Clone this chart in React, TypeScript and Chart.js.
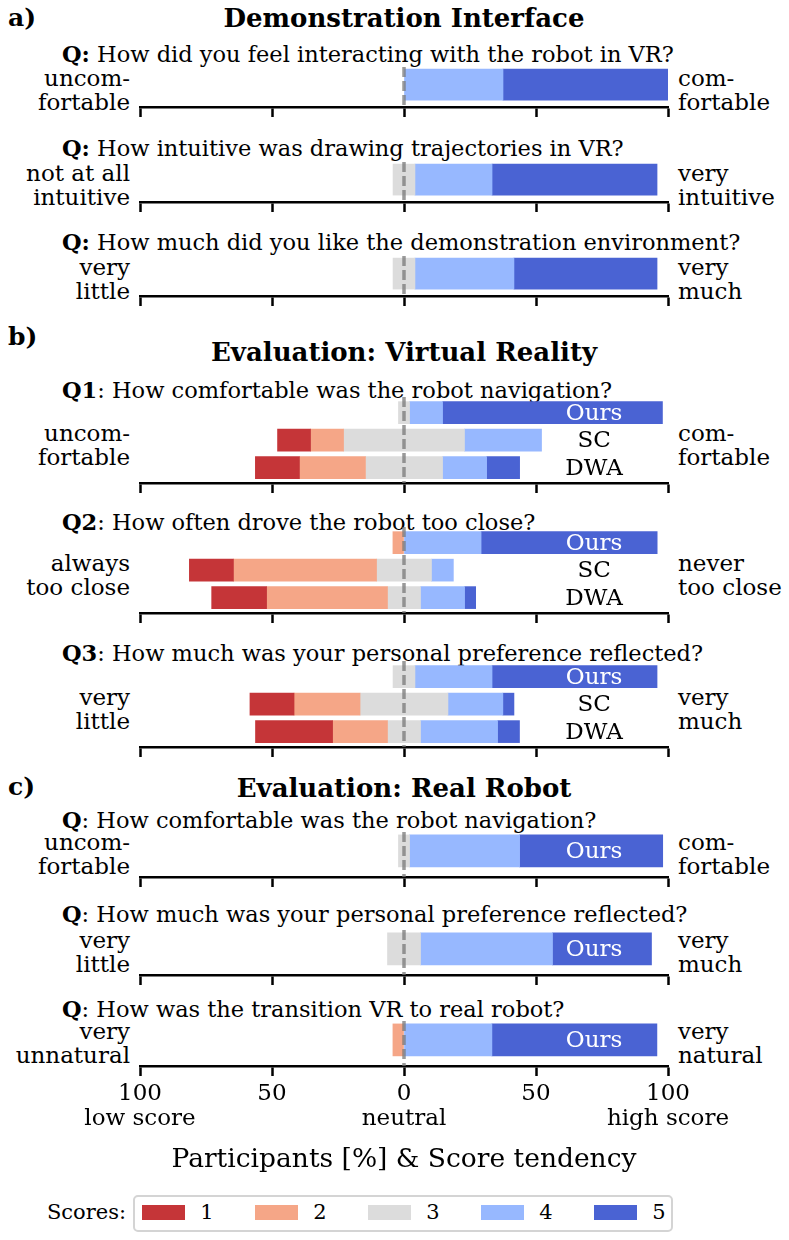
import React, { useEffect, useRef } from "react";
import { Chart, registerables } from "chart.js";
Chart.register(...registerables);

const FONT = "'DejaVu Serif', serif";

// likert scores and their colours
const scoreLabels = ["1", "2", "3", "4", "5"];
const scoreColors = ["#C53538", "#F5A687", "#DCDCDC", "#97B8FF", "#4A63D3"];

// share of participants (%) per score 1..5
const demoFeel = [0, 0, 0, 37.5, 62.5];
const demoIntuitive = [0, 0, 8.3, 29.2, 62.5];
const demoLike = [0, 0, 8.3, 37.5, 54.2];

const methods = ["Ours", "SC", "DWA"];
const vrComfortOurs = [0, 0, 4.2, 12.5, 83.3];
const vrComfortSC = [12.5, 12.5, 45.8, 29.2, 0];
const vrComfortDWA = [16.7, 25, 29.2, 16.7, 12.5];
const vrCloseOurs = [0, 4.2, 0, 29.2, 66.7];
const vrCloseSC = [16.7, 54.2, 20.8, 8.3, 0];
const vrCloseDWA = [20.8, 45.8, 12.5, 16.7, 4.2];
const vrPrefOurs = [0, 0, 8.3, 29.2, 62.5];
const vrPrefSC = [16.7, 25, 33.3, 20.8, 4.2];
const vrPrefDWA = [29.2, 20.8, 12.5, 29.2, 8.3];

const realComfortOurs = [0, 0, 4.2, 41.7, 54.2];
const realPrefOurs = [0, 0, 12.5, 50, 37.5];
const realTransitionOurs = [0, 4.2, 0, 33.3, 62.5];

// bottom axis
const tickValues = [-100, -50, 0, 50, 100];
const tickNumbers = ["100", "50", "0", "50", "100"];
const tickWords = ["low score", "", "neutral", "", "high score"];
const axisTitle = "Participants [%] & Score tendency";

type Kind = "a" | "b" | "c";
type Sub = {
  kind: Kind;
  bold: string;
  rest: string;
  rows: string[];
  values: number[][];
  low: string[];
  high: string[];
  axisY: number;
  questionY: number;
  last?: boolean;
};

// pixel geometry per panel type (y range in row units, reversed axis)
const geometry = {
  a: { plotH: 40, bar: 31, yMin: -0.44, yMax: 0.56, sideMid: 17.5 },
  b: { plotH: 86, bar: 22, yMin: -0.57, yMax: 2.56, sideMid: 38.5 },
  c: { plotH: 45, bar: 32, yMin: -0.42, yMax: 0.58, sideMid: 23 },
};
const AXIS_H = 110;

const subplots: Sub[] = [
  { kind: "a", bold: "Q:", rest: " How did you feel interacting with the robot in VR?", rows: [""], values: [demoFeel], low: ["uncom-", "fortable"], high: ["com-", "fortable"], axisY: 107, questionY: 54 },
  { kind: "a", bold: "Q:", rest: " How intuitive was drawing trajectories in VR?", rows: [""], values: [demoIntuitive], low: ["not at all", "intuitive"], high: ["very", "intuitive"], axisY: 202, questionY: 148 },
  { kind: "a", bold: "Q:", rest: " How much did you like the demonstration environment?", rows: [""], values: [demoLike], low: ["very", "little"], high: ["very", "much"], axisY: 296, questionY: 242 },
  { kind: "b", bold: "Q1", rest: ": How comfortable was the robot navigation?", rows: methods, values: [vrComfortOurs, vrComfortSC, vrComfortDWA], low: ["uncom-", "fortable"], high: ["com-", "fortable"], axisY: 483, questionY: 390 },
  { kind: "b", bold: "Q2", rest: ": How often drove the robot too close?", rows: methods, values: [vrCloseOurs, vrCloseSC, vrCloseDWA], low: ["always", "too close"], high: ["never", "too close"], axisY: 613, questionY: 522 },
  { kind: "b", bold: "Q3", rest: ": How much was your personal preference reflected?", rows: methods, values: [vrPrefOurs, vrPrefSC, vrPrefDWA], low: ["very", "little"], high: ["very", "much"], axisY: 747, questionY: 653 },
  { kind: "c", bold: "Q", rest: ": How comfortable was the robot navigation?", rows: ["Ours"], values: [realComfortOurs], low: ["uncom-", "fortable"], high: ["com-", "fortable"], axisY: 877, questionY: 820 },
  { kind: "c", bold: "Q", rest: ": How much was your personal preference reflected?", rows: ["Ours"], values: [realPrefOurs], low: ["very", "little"], high: ["very", "much"], axisY: 975, questionY: 914 },
  { kind: "c", bold: "Q", rest: ": How was the transition VR to real robot?", rows: ["Ours"], values: [realTransitionOurs], low: ["very", "unnatural"], high: ["very", "natural"], axisY: 1066, questionY: 1009, last: true },
];

const panelHeads = [
  { tag: "a)", title: "Demonstration Interface", tagY: 18, titleY: 18 },
  { tag: "b)", title: "Evaluation: Virtual Reality", tagY: 337, titleY: 352 },
  { tag: "c)", title: "Evaluation: Real Robot", tagY: 787, titleY: 788 },
];

// neutral answers are split around zero
function segments(shares: number[]) {
  let pos = -(shares[0] + shares[1] + shares[2] / 2);
  return shares.map((s) => {
    const seg = [pos, pos + s];
    pos += s;
    return seg;
  });
}

const zeroLinePlugin = {
  id: "zeroLine",
  afterDatasetsDraw(chart: any) {
    const { ctx, chartArea, scales } = chart;
    const x = scales.x.getPixelForValue(0);
    ctx.save();
    ctx.strokeStyle = "rgba(120,120,120,0.75)";
    ctx.lineWidth = 3.5;
    ctx.setLineDash([10, 4]);
    ctx.beginPath();
    ctx.moveTo(x, chartArea.top);
    ctx.lineTo(x, chartArea.bottom);
    ctx.stroke();
    ctx.restore();
  },
};

const rowLabelPlugin = {
  id: "rowLabels",
  afterDatasetsDraw(chart: any, _args: any, opts: any) {
    const { ctx, scales } = chart;
    const labels: string[] = opts.labels || [];
    ctx.save();
    ctx.font = `23px ${FONT}`;
    ctx.textAlign = "center";
    ctx.textBaseline = "middle";
    labels.forEach((lab, i) => {
      if (!lab) return;
      ctx.fillStyle = lab === "Ours" ? "#fff" : "#000";
      ctx.fillText(lab, scales.x.getPixelForValue(72), scales.y.getPixelForValue(i) + 1);
    });
    ctx.restore();
  },
};

// every panel gets the same bottom axis; only the last one shows its text
function xScaleOptions(last: boolean) {
  const ink = last ? "#000" : "rgba(0,0,0,0)";
  return {
    type: "linear",
    min: -100,
    max: 100,
    ticks: {
      stepSize: 50,
      autoSkip: false,
      maxRotation: 0,
      padding: 6,
      color: ink,
      font: { family: FONT, size: 23, lineHeight: "25px" },
      callback: (v: any) => {
        const i = tickValues.indexOf(Number(v));
        if (i < 0) return "";
        return tickWords[i] ? [tickNumbers[i], tickWords[i]] : tickNumbers[i];
      },
    },
    grid: { drawOnChartArea: false, tickLength: 10, tickWidth: 2.5, tickColor: "#000" },
    border: { color: "#000", width: 2.5 },
    title: {
      display: true,
      text: axisTitle,
      color: ink,
      font: { family: FONT, size: 26.5, lineHeight: 1.2 },
      padding: { top: 0, bottom: 0 },
    },
    afterFit: (s: any) => {
      s.height = AXIS_H;
    },
  };
}

function SubplotText({ sub }: { sub: Sub }) {
  const g = geometry[sub.kind];
  const textStyle: React.CSSProperties = { position: "absolute", font: `23px ${FONT}`, lineHeight: "24px", whiteSpace: "nowrap" };
  const sideTop = sub.axisY - g.sideMid - 24;
  return (
    <>
      <div style={{ ...textStyle, left: 62, top: sub.questionY - 14, lineHeight: "28px", fontSize: 22.5 }}>
        <b>{sub.bold}</b>
        {sub.rest}
      </div>
      <div style={{ ...textStyle, left: 0, width: 130, top: sideTop, textAlign: "right" }}>
        {sub.low[0]}
        <br />
        {sub.low[1]}
      </div>
      <div style={{ ...textStyle, left: 678, top: sideTop }}>
        {sub.high[0]}
        <br />
        {sub.high[1]}
      </div>
    </>
  );
}

function SubplotChart({ sub }: { sub: Sub }) {
  const canvasRef = useRef<HTMLCanvasElement | null>(null);
  const g = geometry[sub.kind];

  useEffect(() => {
    if (!canvasRef.current) return;
    const datasets = scoreLabels.map((label, k) => ({
      label,
      data: sub.values
        .map((shares, i) => ({ x: segments(shares)[k], y: i, share: shares[k] }))
        .filter((d) => d.share > 0),
      backgroundColor: scoreColors[k],
      borderWidth: 0,
      barThickness: g.bar,
      grouped: false,
    }));
    const chart = new Chart(canvasRef.current, {
      type: "bar",
      data: { datasets } as any,
      options: {
        indexAxis: "y",
        animation: false,
        responsive: false,
        layout: { padding: { left: 140, right: 121, top: 0, bottom: 0 } },
        plugins: {
          legend: { display: false },
          tooltip: { enabled: false },
          rowLabels: { labels: sub.rows },
        } as any,
        scales: {
          y: { type: "linear", display: false, reverse: true, offset: false, min: g.yMin, max: g.yMax },
          x: xScaleOptions(!!sub.last),
        },
      } as any,
      plugins: [zeroLinePlugin, rowLabelPlugin],
    });
    return () => chart.destroy();
  }, []);

  return (
    <canvas
      ref={canvasRef}
      width={789}
      height={g.plotH + AXIS_H}
      style={{ position: "absolute", left: 0, top: sub.axisY - g.plotH, width: 789, height: g.plotH + AXIS_H }}
    />
  );
}

export default function App() {
  return (
    <div style={{ position: "absolute", left: 0, top: 0, width: 789, height: 1240, background: "#fff", overflow: "hidden", color: "#000" }}>
      {panelHeads.map((p) => (
        <React.Fragment key={p.tag}>
          <div style={{ position: "absolute", left: 8, top: p.tagY - 16, font: `bold 25px ${FONT}`, lineHeight: "32px" }}>{p.tag}</div>
          <div style={{ position: "absolute", left: 104, width: 600, top: p.titleY - 16, textAlign: "center", font: `bold 26px ${FONT}`, lineHeight: "32px", whiteSpace: "nowrap" }}>
            {p.title}
          </div>
        </React.Fragment>
      ))}
      {subplots.map((s, i) => (
        <SubplotText key={"t" + i} sub={s} />
      ))}
      {subplots.map((s, i) => (
        <SubplotChart key={"c" + i} sub={s} />
      ))}
      <div style={{ position: "absolute", left: 0, width: 126, top: 1212 - 14, textAlign: "right", font: `21px ${FONT}`, lineHeight: "28px" }}>Scores:</div>
      <div style={{ position: "absolute", left: 133, top: 1195, width: 536, height: 33, border: "2.5px solid #d4d4d4", borderRadius: 5 }} />
      {scoreLabels.map((lab, k) => (
        <React.Fragment key={lab}>
          <div style={{ position: "absolute", left: 142 + k * 113, top: 1205, width: 43, height: 15, background: scoreColors[k] }} />
          <div style={{ position: "absolute", left: 197 + k * 113, width: 20, top: 1212 - 14, textAlign: "center", font: `21px ${FONT}`, lineHeight: "28px" }}>{lab}</div>
        </React.Fragment>
      ))}
    </div>
  );
}
